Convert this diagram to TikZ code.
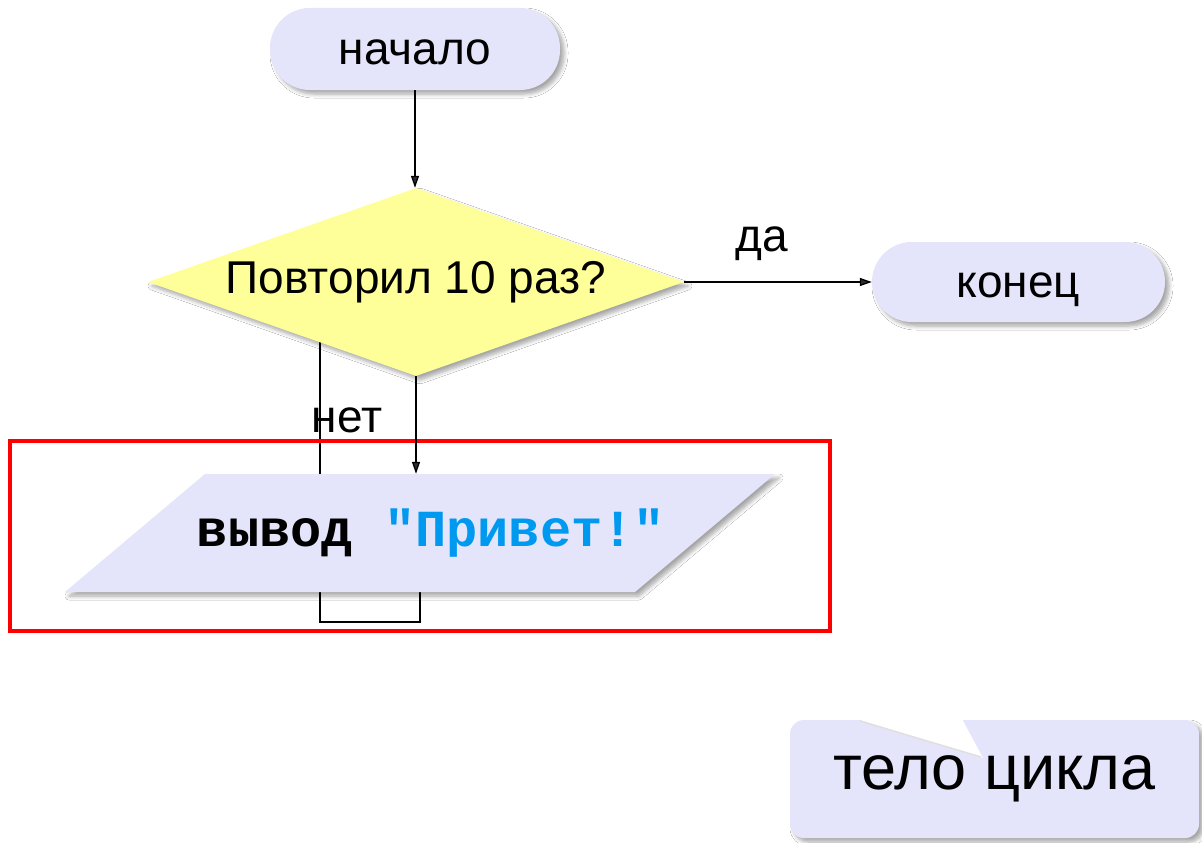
\documentclass[tikz,border=0pt]{standalone}
\usepackage{fontspec}
\setmainfont{Liberation Sans}
\newfontfamily\codefont{Liberation Mono}
\usetikzlibrary{shapes.geometric,shadows.blur,arrows.meta,backgrounds}
\definecolor{termfill}{RGB}{228,228,250}
\definecolor{decfill}{RGB}{255,255,153}
\definecolor{strblue}{RGB}{0,153,240}
\definecolor{loopred}{RGB}{255,0,0}
\begin{document}
\begin{tikzpicture}[x=1pt,y=-1pt,
  softshadow/.style={blur shadow={shadow xshift=4pt,shadow yshift=-4pt,shadow blur radius=4pt,shadow blur steps=6,shadow opacity=35}},
  term/.style={rectangle,fill=termfill,rounded corners=40pt,minimum width=290pt,minimum height=82pt,inner sep=0pt,text height=30pt,text depth=0pt,font=\fontsize{46}{50}\selectfont,softshadow},
  decision/.style={diamond,fill=decfill,minimum width=536pt,minimum height=188pt,aspect=2.85,inner sep=0pt,font=\fontsize{46}{50}\selectfont,softshadow},
  ioshape/.style={fill=termfill,softshadow},
  iotext/.style={rectangle,minimum width=570pt,minimum height=118pt,inner sep=0pt},
  notebox/.style={rectangle,fill=termfill,rounded corners=14pt,minimum width=409pt,minimum height=118pt,inner sep=0pt,font=\fontsize{63}{66}\selectfont,softshadow},
  conn/.style={line width=1.3pt,-{Triangle[length=12pt,width=8pt]}},
  plainline/.style={line width=1.3pt},
  lbl/.style={font=\fontsize{46}{50}\selectfont,inner sep=0pt},
  bodyframe/.style={draw=loopred,line width=3.3pt},
]
\useasboundingbox (0,0) rectangle (1202,843);

\node[term] (start) at (415,49) {начало};
\node[decision] (dec) at (416,282) {Повторил 10 раз?};
\node[term,minimum width=293pt,minimum height=80pt] (stop) at (1018.5,282) {конец};

\fill[ioshape] (205,474) -- (775,474) -- (635,592) -- (65,592) -- cycle;
\node[iotext] (out) at (420,533) {\makebox[0pt]{\kern22pt{\codefont\bfseries\fontsize{52}{56}\selectfont вывод \textcolor{strblue}{"Привет!"}}}};

\node[lbl] (yes) at (762,244) {да};
\node[lbl] (no) at (347,420) {нет};

\draw[bodyframe] (10,441) rectangle (830,631);

\node[notebox] (note) at (994.5,779) {тело цикла};
\fill[white] (857,719) -- (983,758) -- (962,719) -- cycle;
\draw[black!12,line width=1.5pt] (860,721) -- (981,757);

\draw[conn] (start.south) -- (start.south |- dec.north);
\draw[conn] (dec.east) -- (stop.west);
\draw[conn] (dec.south) -- (dec.south |- out.north);

\begin{scope}[on background layer]
  \fill[white] (0,0) rectangle (1202,843);
  \coordinate (lpA) at (420,622);
  \coordinate (lpB) at (320,622);
  \coordinate (lpC) at (320,342);
  \draw[plainline] (out.center) -- (lpA) -- (lpB) -- (lpC);
\end{scope}
\end{tikzpicture}
\end{document}
